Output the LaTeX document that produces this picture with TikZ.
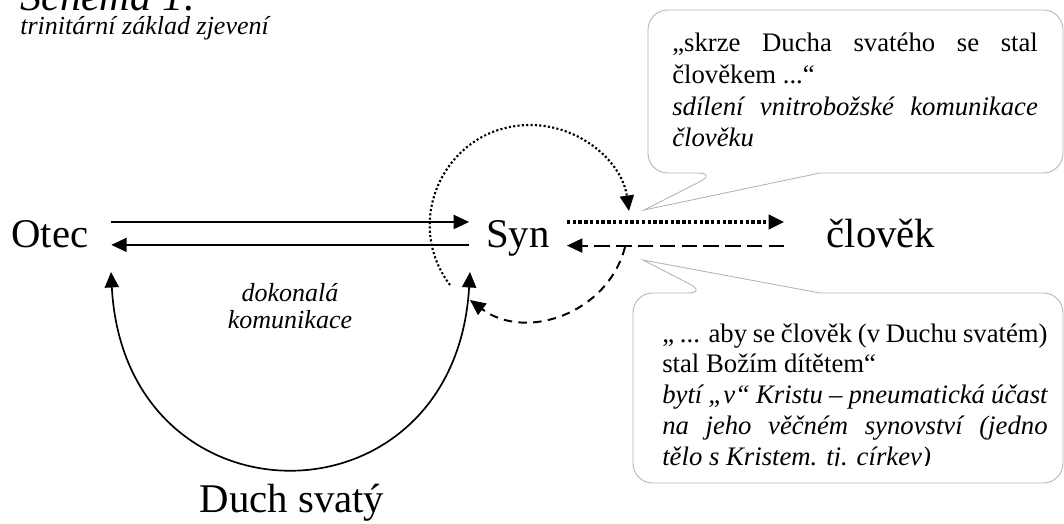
\documentclass[tikz,border=0pt]{standalone}
\usepackage{fontspec}
\setmainfont{Liberation Serif}
\usetikzlibrary{arrows.meta, positioning}

\begin{document}
\begin{tikzpicture}[x=0.025cm, y=-0.025cm, >={Triangle[length=11pt, width=10pt]},
    person/.style={font=\fontsize{29}{34}\selectfont, anchor=base, text height=20pt, text depth=6pt, inner ysep=0pt, inner xsep=12pt},
    remark/.style={font=\fontsize{18.5}{18.5}\selectfont\itshape, inner sep=0pt},
    bubble/.style={draw=gray!60, line width=0.6pt},
    bubbletext/.style={inner sep=0pt, anchor=base west, align=justify},
    link/.style={line width=1.2pt},
    dotline/.style={line width=2.4pt, dash pattern=on 2.4pt off 1.7pt},
    dashline/.style={line width=1.4pt, dash pattern=on 11pt off 4.5pt},
    dotarc/.style={line width=1.5pt, dash pattern=on 1.5pt off 1.6pt},
    dasharc/.style={line width=1.4pt, dash pattern=on 6pt off 4.5pt}]
    \useasboundingbox (0,0) rectangle (1064,524);

    % Title
    \node[remark, font=\fontsize{30}{30}\selectfont\itshape, anchor=base west] (title) at (20,11) {Schéma 1:};
    \node[remark, anchor=base west] (subtitle) at (20,35) {trinitární základ zjevení};

    % Define persons
    \node[person, inner xsep=16pt] (otec) at (50,247) {Otec};
    \node[person] (syn) at (518,247) {Syn};
    \node[person, inner xsep=30pt] (clovek) at (881,247) {člověk};
    \node[person] (duch) at (292,512) {Duch svatý};
    \node[remark, text width=150pt, align=center, anchor=base] (komunikace) at (290,302)
        {\fontsize{18.5}{18.5}\selectfont dokonalá\\komunikace};

    % Free ends of the arcs
    \coordinate (otecfoot) at (111,272);
    \coordinate (synfoot) at (470,272);
    \coordinate (spiritstart) at (450,285);
    \coordinate (spirittop) at (530,125);
    \coordinate (spiritend) at (629,211);
    \coordinate (backstart) at (625,247);
    \coordinate (backend) at (470,300);

    % Draw edges
    \draw[link, ->] ([yshift=10.8pt]otec.east) -- ([yshift=10.8pt]syn.west);
    \draw[link, ->] ([yshift=-5.5pt]syn.west) -- ([yshift=-5.5pt]otec.east);
    \draw[dotline, ->] ([yshift=10.8pt]syn.east) -- ([yshift=10.8pt]clovek.west);
    \draw[dashline, ->] ([yshift=-6pt]clovek.west) -- ([yshift=-6pt]syn.east);
    \draw[link, <->] (otecfoot) .. controls (125,532) and (455,532) .. (synfoot);
    \draw[dotarc, ->] (spiritstart) .. controls (400.3,219.1) and (447.5,125) .. (spirittop) .. controls (579.9,125) and (622,161.6) .. (spiritend);
    \draw[dasharc, ->] (backstart) .. controls (607.7,313.9) and (525.2,341.6) .. (backend);

    % Speech bubbles
    \draw[bubble] (644,210) -- (820,173) [rounded corners=14pt] -- (1063,173) -- (1063,10) -- (648,10) -- (648,173) -- (717,173) [sharp corners] -- cycle;
    \node[bubbletext, text width=260pt] (incarnation) at (672,52)
        {\fontsize{19}{22.5}\selectfont
         „skrze Ducha svatého se stal\linebreak
         člověkem ...“\newline
         \itshape sdílení vnitrobožské komunikace\linebreak
         člověku\par};

    \draw[bubble] (643,260) -- (820,293) [rounded corners=14pt] -- (1063,293) -- (1063,483) -- (633,483) -- (633,293) -- (707,293) [sharp corners] -- cycle;
    \begin{scope}
        \clip (633,293) rectangle (1063,465);
        \node[bubbletext, text width=274pt] (sonship) at (662,342)
            {\fontsize{19}{21.9}\selectfont
             „ ... aby se člověk (v Duchu svatém)\linebreak
             stal Božím dítětem“\newline
             \itshape bytí „v“ Kristu – pneumatická účast\linebreak
             na jeho věčném synovství (jedno\linebreak
             tělo s Kristem. tj. církev)\par};
    \end{scope}
\end{tikzpicture}
\end{document}
